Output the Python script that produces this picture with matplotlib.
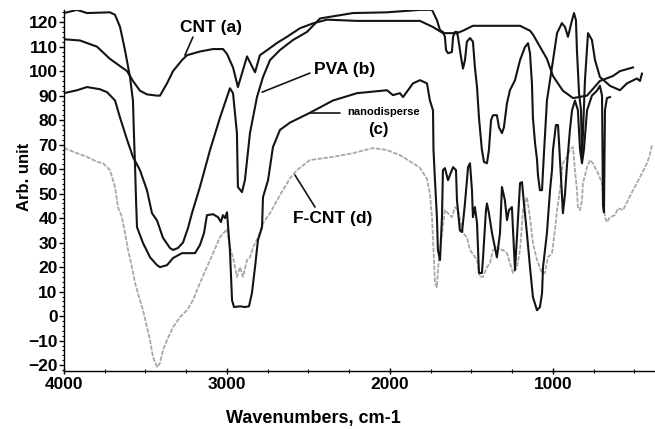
import matplotlib
matplotlib.use("Agg")
import matplotlib.pyplot as plt
from matplotlib.ticker import MultipleLocator

plt.rcParams['font.family'] = ['Liberation Sans', 'DejaVu Sans']
plt.rcParams['font.weight'] = 'bold'

# CNT (a)
cnt_wn = [4000, 3902, 3798, 3718, 3613, 3577, 3534, 3491, 3430, 3411, 3368, 3331, 3276, 3245,
          3166, 3086, 3024, 3000, 2963, 2933, 2877, 2828, 2798, 2755, 2693, 2632, 2552, 2472,
          2386, 2200, 2000, 1816, 1736, 1675, 1589, 1552, 1491, 1202, 1141, 1123, 1037, 1000,
          939, 877, 791, 712, 632, 589, 509]
cnt_val = [113, 112.5, 110, 105, 100, 96, 92, 90.5, 90, 90, 95, 100, 104.5, 106.5,
           108, 109, 109, 107, 101.5, 93.5, 106, 99.5, 106.5, 108.5, 111.5, 114, 117.5, 119.5,
           121, 120.5, 120.5, 120.5, 118, 115.5, 115.5, 116.5, 118.5, 118.5, 116.5, 115, 105, 98,
           92, 89, 90, 96, 98, 100, 101.5]

# PVA (b)
pva_wn = [4000, 3920, 3859, 3779, 3736, 3687, 3656, 3613, 3577, 3534, 3491, 3460, 3429, 3393,
          3350, 3331, 3301, 3270, 3239, 3215, 3166, 3104, 3043, 2982, 2963, 2939, 2933, 2908,
          2890, 2859, 2816, 2779, 2736, 2675, 2595, 2509, 2429, 2227, 2018, 1816, 1742, 1712,
          1693, 1675, 1663, 1656, 1644, 1620, 1613, 1601, 1589, 1583, 1564, 1552, 1540, 1528,
          1509, 1491, 1479, 1466, 1454, 1436, 1423, 1405, 1393, 1380, 1368, 1344, 1331, 1313,
          1301, 1282, 1264, 1233, 1202, 1172, 1153, 1141, 1129, 1123, 1110, 1098, 1092, 1080,
          1067, 1061, 1037, 1006, 975, 945, 926, 908, 883, 871, 859, 853, 840, 828, 822, 804,
          785, 761, 742, 712, 650, 589, 546, 485, 466, 454]
pva_val = [91, 92.2, 93.5, 92.6, 91.4, 88, 81, 72, 65, 59.6, 51.4, 42, 39, 32,
           27.8, 27, 27.8, 30, 36, 42, 52.7, 67.8, 81, 93, 91, 74.7, 52.7, 50.6,
           55.5, 74.7, 89.4, 97.6, 104.5, 108.6, 112.7, 116, 121.5, 123.7, 124, 125, 125, 120.8,
           116.7, 116, 114, 108.6, 107.3, 107.8, 114, 116, 116, 114, 105.7, 101, 104.5, 112,
           113.5, 112, 101.6, 93.5, 81, 67.8, 62.9, 62.4, 67.8, 80, 82, 82, 77, 74.7,
           77, 87, 92.2, 96.3, 104.5, 109.8, 111.4, 107.3, 95, 81, 70.6, 64, 57.5, 51.4,
           51.4, 59.6, 88, 101.6, 115.5, 119.6, 118, 114, 120.8, 123.7, 120.8, 108.6, 91, 84, 63.7, 96,
           115.5, 112.7, 104.5, 97.6, 94, 92.2, 95, 97, 96, 99]

# nanodisperse (c)
nano_wn = [4000, 3920, 3859, 3718, 3687, 3656, 3626, 3595, 3577, 3571, 3564, 3558, 3552, 3515,
           3472, 3429, 3411, 3368, 3331, 3276, 3196, 3166, 3141, 3123, 3086, 3055, 3037, 3025,
           3012, 3000, 2982, 2969, 2957, 2920, 2890, 2865, 2847, 2828, 2810, 2785, 2779, 2748,
           2718, 2675, 2613, 2552, 2491, 2350, 2202, 2018, 1982, 1939, 1920, 1859, 1816, 1773,
           1755, 1736, 1733, 1724, 1712, 1706, 1693, 1681, 1675, 1663, 1644, 1620, 1613, 1595,
           1589, 1571, 1558, 1540, 1521, 1509, 1497, 1491, 1479, 1466, 1454, 1436, 1430, 1411,
           1405, 1393, 1374, 1344, 1325, 1313, 1295, 1282, 1270, 1252, 1233, 1221, 1202, 1190,
           1178, 1160, 1141, 1123, 1098, 1080, 1067, 1061, 1037, 1018, 1006, 1000, 982, 969,
           957, 945, 939, 926, 914, 896, 883, 865, 847, 834, 822, 810, 791, 761, 730, 712,
           699, 693, 687, 681, 669, 650]
nano_val = [123.7, 125, 123.7, 124, 123, 118, 108.6, 97.6, 88, 74.7, 61, 47.3, 36.3, 29.8,
            24, 20.8, 20, 20.8, 23.7, 25.7, 25.7, 29, 33.9, 41.2, 41.6, 40.4, 38.4, 41.2,
            40, 42.4, 27, 6.5, 3.7, 4, 3.7, 4, 9.4, 20, 31, 36.3, 48.6, 55.5,
            69, 76, 79, 81, 83, 88, 91, 92.2, 90.2, 91, 89.4, 95, 96.3, 95,
            88, 84, 67.8, 55.5, 40.4, 27, 22.9, 40.4, 59.6, 60.4, 55.5, 59.6, 60.8, 59.6,
            47.3, 35, 34.3, 46, 60.8, 62.4, 51.4, 40.4, 44.5, 38, 17.6, 17.6, 22.9, 43.3,
            46, 42, 33.9, 24, 33.9, 52.7, 47.3, 39.2, 43.3, 44.5, 18.8, 32.2, 54.3, 54.7,
            46, 33.9, 20, 7.8, 2.4, 3.7, 9.4, 20, 33.9, 51.4, 59.6, 67.8, 78, 78,
            64, 49.8, 42, 50, 61.6, 76, 84, 88, 84, 68, 62.4, 68, 84, 90, 92, 94,
            90, 45, 42.4, 84, 89, 89.4]

# F-CNT (d)
fcnt_wn = [4000, 3920, 3859, 3798, 3761, 3718, 3687, 3669, 3644, 3626, 3607, 3583, 3564, 3534,
           3515, 3491, 3472, 3454, 3429, 3411, 3393, 3368, 3331, 3288, 3245, 3209, 3166, 3104,
           3043, 3000, 2982, 2963, 2939, 2920, 2902, 2877, 2859, 2840, 2810, 2779, 2736, 2675,
           2613, 2571, 2491, 2350, 2227, 2104, 2018, 1939, 1859, 1816, 1773, 1755, 1742, 1730,
           1724, 1712, 1706, 1693, 1663, 1644, 1620, 1601, 1583, 1552, 1528, 1509, 1466, 1448,
           1430, 1405, 1387, 1368, 1337, 1325, 1307, 1282, 1264, 1245, 1221, 1202, 1184, 1160,
           1141, 1123, 1098, 1067, 1049, 1031, 1006, 988, 975, 957, 939, 914, 896, 877,
           865, 853, 847, 834, 822, 816, 791, 773, 755, 724, 699, 693, 681, 669,
           650, 620, 601, 570, 540, 509, 466, 423, 405, 392]
fcnt_val = [68.6, 66.5, 65, 63, 62.4, 59.6, 52.7, 44.5, 40.4, 34, 27, 20, 13.5, 6.5,
            2.4, -4.5, -9.8, -16.7, -20.8, -19.2, -13.9, -9.8, -4.5, -0.4, 2.4, 6.5, 13.5, 22.9,
            32.2, 35.5, 28, 24, 16, 20, 16, 22.9, 24, 28, 32.2, 38, 42, 49.4,
            56.3, 59.6, 63.7, 65, 66.5, 68.6, 67.8, 65.7, 62.4, 60.5, 56, 50, 40, 22.9,
            13.5, 11.8, 18.8, 27, 43.3, 42, 40.4, 44.5, 43.3, 33.9, 32.2, 27, 22.9, 16,
            16, 20, 21.6, 27, 28.2, 27, 27, 25.7, 21.6, 17.6, 20, 27, 43.3, 48.6,
            40.4, 29.8, 22.9, 17.6, 17.6, 24, 25.7, 35, 43.3, 51.4, 62.4, 65, 67.8, 69,
            59.6, 51.4, 44.5, 43.3, 47.3, 54.3, 60.8, 63.7, 62.4, 58.4, 54.3, 48.6, 40.4, 38.4,
            40.4, 41.2, 44, 43.3, 47.3, 51.4, 56.7, 62.4, 66, 70]

fig = plt.figure(figsize=(6.55, 4.29), dpi=100)
ax = fig.add_axes([0.0977, 0.1352, 0.9023, 0.8418])

ax.plot(fcnt_wn, fcnt_val, color='#a8a8a8', lw=1.3, linestyle=(0, (2.5, 0.8)))
ax.plot(cnt_wn, cnt_val, color='#141414', lw=1.5)
ax.plot(pva_wn, pva_val, color='#141414', lw=1.5)
ax.plot(nano_wn, nano_val, color='#141414', lw=1.5)

ax.set_xlim(4000, 374)
ax.set_ylim(-22.4, 125)
ax.spines['top'].set_visible(False)
ax.spines['right'].set_visible(False)
ax.spines['left'].set_linewidth(1.0)
ax.spines['bottom'].set_linewidth(1.0)

ax.xaxis.set_major_locator(MultipleLocator(1000))
ax.xaxis.set_minor_locator(MultipleLocator(250))
ax.yaxis.set_major_locator(MultipleLocator(10))
ax.yaxis.set_minor_locator(MultipleLocator(2))
ax.set_yticks(range(-20, 121, 10))
ax.tick_params(axis='y', which='major', direction='out', length=3.5, width=1, pad=1,
               labelsize=12.5)
ax.tick_params(axis='y', which='minor', direction='out', length=1.5, width=0.8)
ax.tick_params(axis='x', which='major', direction='inout', length=4, width=1, pad=2,
               labelsize=12.5)
ax.tick_params(axis='x', which='minor', direction='inout', length=3, width=0.8)
for lab in ax.get_xticklabels() + ax.get_yticklabels():
    lab.set_fontweight('bold')

fig.text(0.037, 1 - 177 / 429, 'Arb. unit', rotation=90, ha='center', va='center',
         fontsize=12, fontweight='bold')
fig.text(313 / 655, 1 - 418 / 429, 'Wavenumbers, cm-1', ha='center', va='center',
         fontsize=13, fontweight='bold')

line = dict(arrowstyle='-', color='#141414', lw=1.2, shrinkA=0, shrinkB=0)
ax.text(3098, 118, 'CNT (a)', ha='center', va='center', fontsize=12.5, fontweight='bold')
ax.annotate('', xy=(3258, 106.5), xytext=(3209, 113.9), arrowprops=line)
ax.text(2276, 100.8, 'PVA (b)', ha='center', va='center', fontsize=12.5, fontweight='bold')
ax.annotate('', xy=(2785, 91.4), xytext=(2491, 99.2), arrowprops=line)
ax.text(2037, 83.3, 'nanodisperse', ha='center', va='center', fontsize=8, fontweight='bold')
ax.text(2074, 76.3, '(c)', ha='center', va='center', fontsize=12, fontweight='bold')
ax.annotate('', xy=(2491, 82.9), xytext=(2307, 82.9), arrowprops=line)
ax.text(2350, 40, 'F-CNT (d)', ha='center', va='center', fontsize=12.5, fontweight='bold')
ax.annotate('', xy=(2583, 57.6), xytext=(2460, 44.5), arrowprops=line)

fig.savefig('out.png', dpi=100)
